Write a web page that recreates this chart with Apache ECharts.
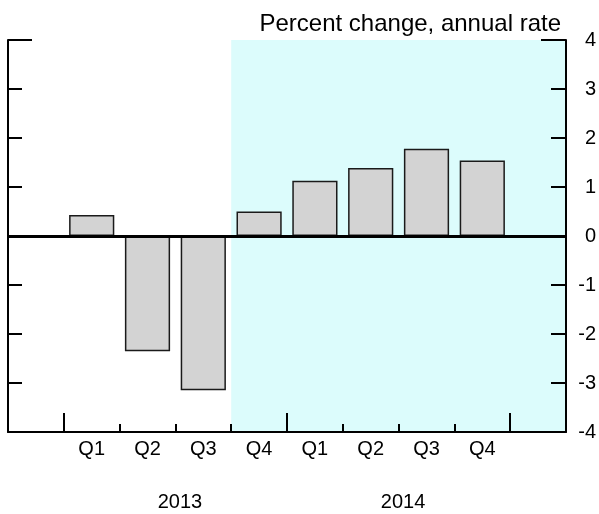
<!DOCTYPE html>
<html>
<head>
<meta charset="utf-8">
<script src="https://cdn.jsdelivr.net/npm/echarts@6/dist/echarts.min.js"></script>
<style>html,body{margin:0;padding:0;background:#fff}#c{width:599px;height:514px}</style>
</head>
<body>
<div id="c"></div>
<script>
const quarters = ['Q1', 'Q2', 'Q3', 'Q4', 'Q1', 'Q2', 'Q3', 'Q4'];
const values2013 = [0.43, -2.35, -3.15, 0.5];
const values2014 = [1.13, 1.39, 1.78, 1.54];
const years = ['2013', '2014'];
const yearCenters = [3, 7];
const shadeFrom = 4;   // slot index where shading starts (2013 Q4)
const yTicks = { min: -4, max: 4, interval: 1 };

const categories = [''].concat(quarters, ['']);
const barValues = [null].concat(values2013, values2014, [null]);
const nSlots = categories.length;
const majorTicks = [1, 5, 9];
const minorTicks = [2, 3, 4, 6, 7, 8];
const FONT = 'Liberation Sans, Arial, sans-serif';

const chart = echarts.init(document.getElementById('c'));
chart.setOption({
  animation: false,
  title: {
    text: 'Percent change, annual rate',
    right: 33, top: 7,
    textStyle: { fontFamily: FONT, fontSize: 24, fontWeight: 'normal', color: '#000' }
  },
  grid: { left: 8, right: 33, top: 40, bottom: 82 },
  xAxis: [
    {
      type: 'category', data: categories, position: 'bottom', z: 10,
      axisLine: { show: true, onZero: false, lineStyle: { color: '#000', width: 2 } },
      axisTick: { show: true, inside: true, length: 19, lineStyle: { color: '#000', width: 2 },
        interval: (i) => majorTicks.includes(i) },
      axisLabel: { fontFamily: FONT, fontSize: 20, color: '#000', margin: 7, interval: 0 },
      splitLine: { show: false }
    },
    {
      type: 'category', data: categories, position: 'bottom', z: 10,
      axisLine: { show: false, onZero: false },
      axisTick: { show: true, inside: true, length: 8, lineStyle: { color: '#000', width: 2 },
        interval: (i) => minorTicks.includes(i) },
      axisLabel: { show: false },
      splitLine: { show: false }
    },
    {
      type: 'value', min: 0, max: nSlots, show: false
    },
    {
      type: 'value', min: 0, max: nSlots, interval: 1, position: 'bottom', z: 10,
      axisLine: { show: false, onZero: false },
      axisTick: { show: false },
      splitLine: { show: false },
      axisLabel: {
        fontFamily: FONT, fontSize: 20, color: '#000', margin: 60, padding: [0, 0, 0, 9],
        showMinLabel: true, showMaxLabel: true,
        formatter: (v) => { const k = yearCenters.indexOf(v); return k >= 0 ? years[k] : ''; }
      }
    }
  ],
  yAxis: [
    {
      type: 'value', position: 'right', min: yTicks.min, max: yTicks.max, interval: yTicks.interval, z: 10,
      axisLine: { show: true, onZero: false, lineStyle: { color: '#000', width: 2 } },
      axisTick: { show: true, inside: true, length: 15, lineStyle: { color: '#000', width: 2 } },
      axisLabel: { fontFamily: FONT, fontSize: 20, color: '#000', margin: 30, align: 'right' },
      splitLine: { show: false }
    },
    {
      type: 'value', position: 'left', min: yTicks.min, max: yTicks.max, interval: yTicks.interval, z: 10,
      axisLine: { show: true, onZero: false, lineStyle: { color: '#000', width: 2 } },
      axisTick: { show: true, inside: true, length: 14, lineStyle: { color: '#000', width: 2 } },
      axisLabel: { show: false },
      splitLine: { show: false }
    },
    {
      type: 'value', position: 'right', min: yTicks.min, max: yTicks.max, interval: 8, z: 10,
      axisLine: { show: false, onZero: false },
      axisTick: { show: true, inside: true, length: 25, lineStyle: { color: '#000', width: 2 } },
      axisLabel: { show: false },
      splitLine: { show: false }
    },
    {
      type: 'value', position: 'left', min: yTicks.min, max: yTicks.max, interval: 8, z: 10,
      axisLine: { show: false, onZero: false },
      axisTick: { show: true, inside: true, length: 24, lineStyle: { color: '#000', width: 2 } },
      axisLabel: { show: false },
      splitLine: { show: false }
    }
  ],
  series: [
    {
      type: 'line', xAxisIndex: 2, yAxisIndex: 0, data: [], z: 1, silent: true,
      markArea: {
        silent: true,
        itemStyle: { color: '#dcfcfc' },
        data: [[{ xAxis: shadeFrom }, { xAxis: nSlots }]]
      }
    },
    {
      type: 'bar', xAxisIndex: 0, yAxisIndex: 0, data: barValues, z: 3,
      barCategoryGap: '19%',
      itemStyle: { color: '#d3d3d3', borderColor: '#1a1a1a', borderWidth: 1.5 },
      markLine: {
        silent: true, symbol: 'none', label: { show: false },
        lineStyle: { color: '#000', width: 3, type: 'solid' },
        data: [{ yAxis: 0 }]
      }
    }
  ]
});
</script>
</body>
</html>
